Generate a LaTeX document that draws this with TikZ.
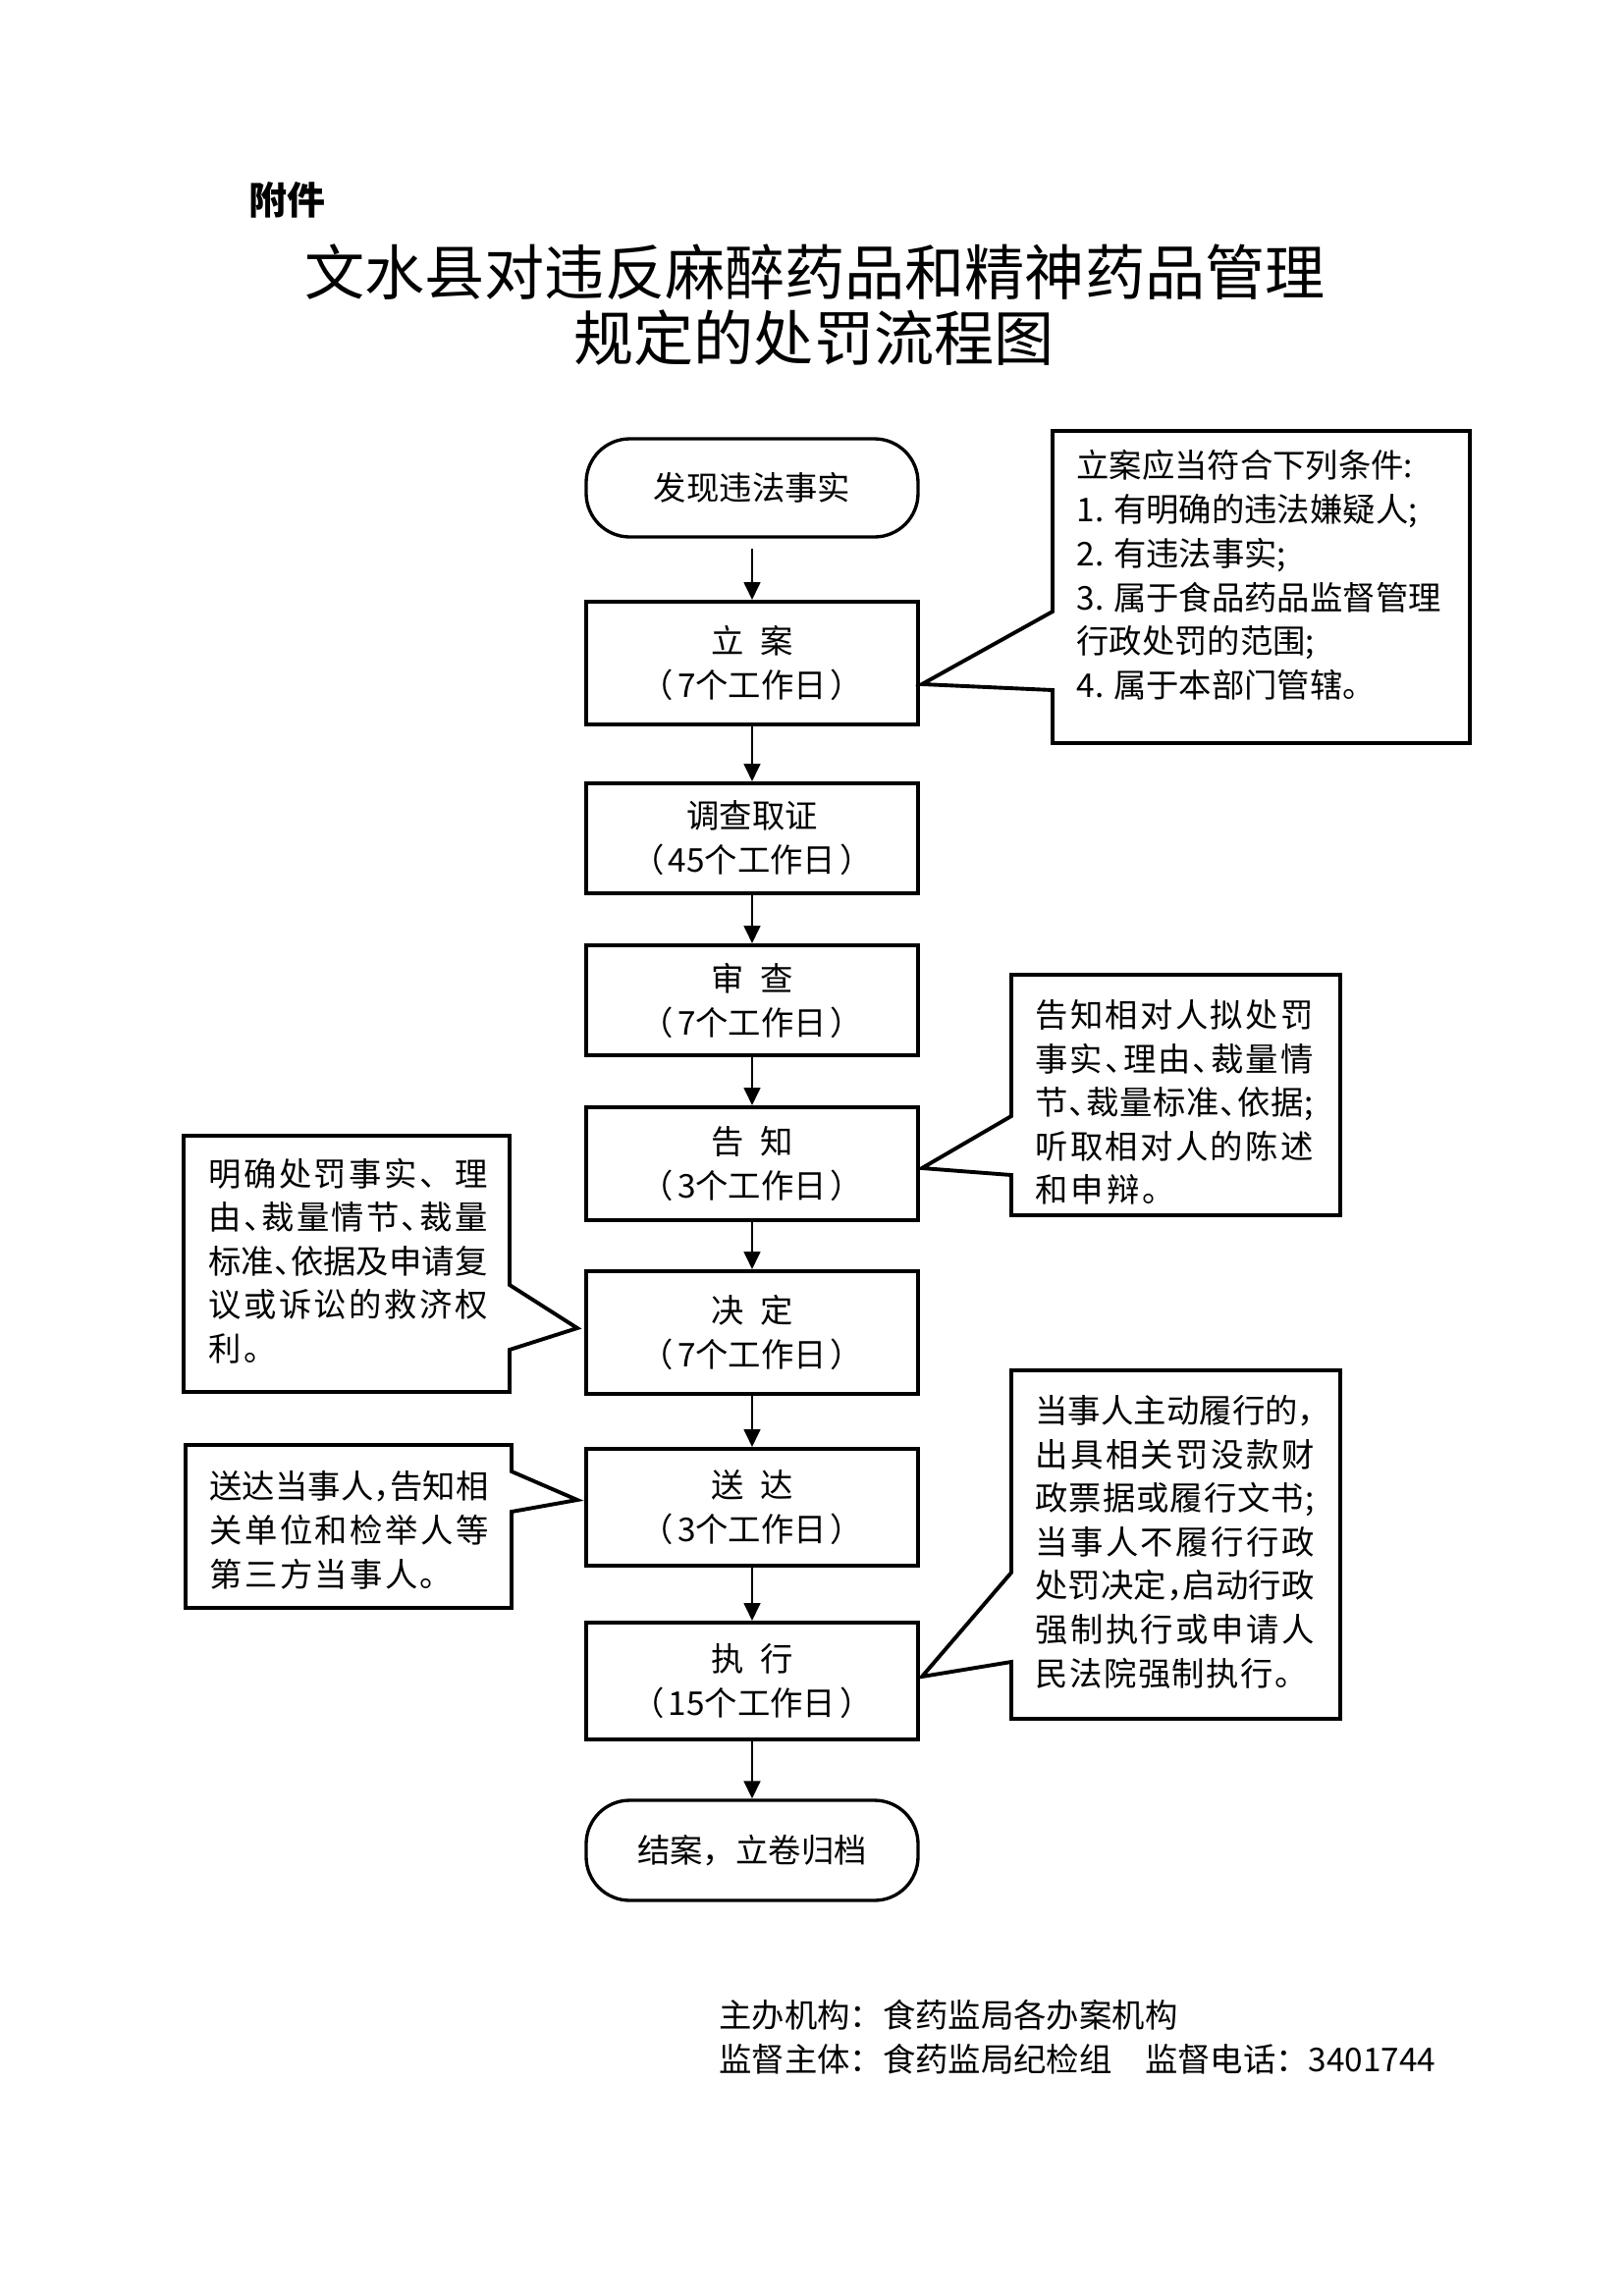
\documentclass[tikz,border=0pt]{standalone}
\usepackage{fontspec}
\setmainfont{Noto Sans CJK SC}
\usetikzlibrary{arrows.meta}
\newdimen\px \px=0.3599pt
\makeatletter
\def\sp@end{\sp@end@}
\def\spreadto#1#2{\hbox to #1{\sp@first#2\sp@end}}
\def\sp@first#1{#1\sp@next}
\def\sp@next#1{\ifx\sp@end#1\else\hfil#1\expandafter\sp@next\fi}
\def\spreadgap#1#2{\hbox{\def\sp@gap{\hskip#1\relax}\sp@firstg#2\sp@end}}
\def\sp@firstg#1{#1\sp@nextg}
\def\sp@nextg#1{\ifx\sp@end#1\else\sp@gap#1\expandafter\sp@nextg\fi}
\makeatother
\newcommand\dun{\makebox[0.5em][l]{、}}
\newcommand\dou{\makebox[0.5em][l]{，}}
\tikzset{
  txt/.style={inner sep=0pt, anchor=base west, font=\fontsize{12pt}{16pt}\selectfont},
  ttl/.style={inner sep=0pt, anchor=base, font=\fontsize{22pt}{26pt}\selectfont},
  box/.style={draw, line width=1.4pt, minimum width=338\px, inner sep=0pt, align=center,
    font=\fontsize{12pt}{16.2pt}\selectfont},
  term/.style={box, line width=1.2pt, rounded corners=16pt},
  arr/.style={-{Triangle[length=6.5pt,width=6pt]}, line width=1pt},
  note/.style={draw, line width=1.4pt}
}
\begin{document}
\begin{tikzpicture}[x=0.3599pt, y=-0.3599pt]
\useasboundingbox (0,0) rectangle (1654,2339);
\fill[white] (0,0) rectangle (1654,2339);

% heading
\node[inner sep=0pt, anchor=base west, font=\bfseries\fontsize{14pt}{16pt}\selectfont] (fujian) at (253,218) {附件};
\node[ttl] (t1) at (830,300) {文水县对违反麻醉药品和精神药品管理};
\node[ttl] (t2) at (829,367) {规定的处罚流程图};

% flow
\node[term, minimum height=100\px] (start) at (766,497) {发现违法事实};
\node[box, minimum height=125\px] (lian) at (766,675.5) {立\hskip17\px 案\\（\hskip4\px 7个工作日\hskip4\px ）};
\node[box, minimum height=112\px] (diaocha) at (766,854) {调查取证\\（\hskip4\px 45个工作日\hskip4\px ）};
\node[box, minimum height=112\px] (shencha) at (766,1019) {审\hskip17\px 查\\（\hskip4\px 7个工作日\hskip4\px ）};
\node[box, minimum height=115\px] (gaozhi) at (766,1185.5) {告\hskip17\px 知\\（\hskip4\px 3个工作日\hskip4\px ）};
\node[box, minimum height=125\px] (jueding) at (766,1357.5) {决\hskip17\px 定\\（\hskip4\px 7个工作日\hskip4\px ）};
\node[box, minimum height=119\px] (songda) at (766,1535.5) {送\hskip17\px 达\\（\hskip4\px 3个工作日\hskip4\px ）};
\node[box, minimum height=119\px] (zhixing) at (766,1712.5) {执\hskip17\px 行\\（\hskip4\px 15个工作日\hskip4\px ）};
\node[term, minimum height=102\px] (finish) at (766,1885) {结案，立卷归档};

\coordinate (s0) at ([yshift=-3.6pt]start.south);
\draw[arr] (s0) -- (lian.north);
\draw[arr] (lian.south) -- (diaocha.north);
\draw[arr] (diaocha.south) -- (shencha.north);
\draw[arr] (shencha.south) -- (gaozhi.north);
\draw[arr] (gaozhi.south) -- (jueding.north);
\draw[arr] (jueding.south) -- (songda.north);
\draw[arr] (songda.south) -- (zhixing.north);
\draw[arr] (zhixing.south) -- (finish.north);

% callout 1
\coordinate (tip1) at (939,697);
\draw[note] (1072,439) -- (1497,439) -- (1497,757) -- (1072,757) -- (1072,703) -- (tip1) -- (1072,623) -- cycle;
\node[txt] (n1a) at (1096,486) {立案应当符合下列条件:};
\node[txt] (n1b) at (1096,531) {1. 有明确的违法嫌疑人;};
\node[txt] (n1c) at (1096,576) {2. 有违法事实;};
\node[txt] (n1d) at (1096,621) {3. 属于食品药品监督管理};
\node[txt] (n1e) at (1096,665) {行政处罚的范围;};
\node[txt] (n1f) at (1096,710) {4. 属于本部门管辖。};

% callout 2
\coordinate (tip2) at (939,1190);
\draw[note] (1030,993) -- (1365,993) -- (1365,1238) -- (1030,1238) -- (1030,1197) -- (tip2) -- (1030,1137) -- cycle;
\node[txt] (n2a) at (1054,1046) {\spreadto{283\px}{告知相对人拟处罚}};
\node[txt] (n2b) at (1054,1091) {\spreadto{283\px}{事实\dun 理由\dun 裁量情}};
\node[txt] (n2c) at (1054,1135) {\spreadto{283\px}{节\dun 裁量标准\dun 依据;}};
\node[txt] (n2d) at (1054,1180) {\spreadto{283\px}{听取相对人的陈述}};
\node[txt] (n2e) at (1054,1224) {\spreadgap{3\px}{和申辩。}};

% callout 3
\coordinate (tip3) at (588,1353);
\draw[note] (187,1157) -- (519,1157) -- (519,1309) -- (tip3) -- (519,1375) -- (519,1418) -- (187,1418) -- cycle;
\node[txt] (n3a) at (212,1208) {\spreadto{284\px}{明确处罚事实、理}};
\node[txt] (n3b) at (212,1252) {\spreadto{284\px}{由\dun 裁量情节\dun 裁量}};
\node[txt] (n3c) at (212,1297) {\spreadto{284\px}{标准\dun 依据及申请复}};
\node[txt] (n3d) at (212,1341) {\spreadto{284\px}{议或诉讼的救济权}};
\node[txt] (n3e) at (212,1386) {\spreadgap{3\px}{利。}};

% callout 4
\coordinate (tip4) at (588,1528);
\draw[note] (189,1472) -- (521,1472) -- (521,1499) -- (tip4) -- (521,1540) -- (521,1638) -- (189,1638) -- cycle;
\node[txt] (n4a) at (213,1526) {\spreadto{284\px}{送达当事人\dou 告知相}};
\node[txt] (n4b) at (213,1571) {\spreadto{284\px}{关单位和检举人等}};
\node[txt] (n4c) at (213,1616) {\spreadgap{2.4\px}{第三方当事人。}};

% callout 5
\coordinate (tip5) at (939,1708);
\draw[note] (1030,1396) -- (1365,1396) -- (1365,1751) -- (1030,1751) -- (1030,1693) -- (tip5) -- (1030,1602) -- cycle;
\node[txt] (n5a) at (1054,1449) {\spreadto{284\px}{当事人主动履行的\dou}};
\node[txt] (n5b) at (1054,1494) {\spreadto{284\px}{出具相关罚没款财}};
\node[txt] (n5c) at (1054,1538) {\spreadto{284\px}{政票据或履行文书;}};
\node[txt] (n5d) at (1054,1583) {\spreadto{284\px}{当事人不履行行政}};
\node[txt] (n5e) at (1054,1627) {\spreadto{284\px}{处罚决定\dou 启动行政}};
\node[txt] (n5f) at (1054,1672) {\spreadto{284\px}{强制执行或申请人}};
\node[txt] (n5g) at (1054,1717) {\spreadgap{1.5\px}{民法院强制执行。}};

% footer
\node[txt] (f1) at (732,2065) {主办机构：食药监局各办案机构};
\node[txt] (f2) at (732,2110) {监督主体：食药监局纪检组　监督电话：3401744};
\end{tikzpicture}
\end{document}
